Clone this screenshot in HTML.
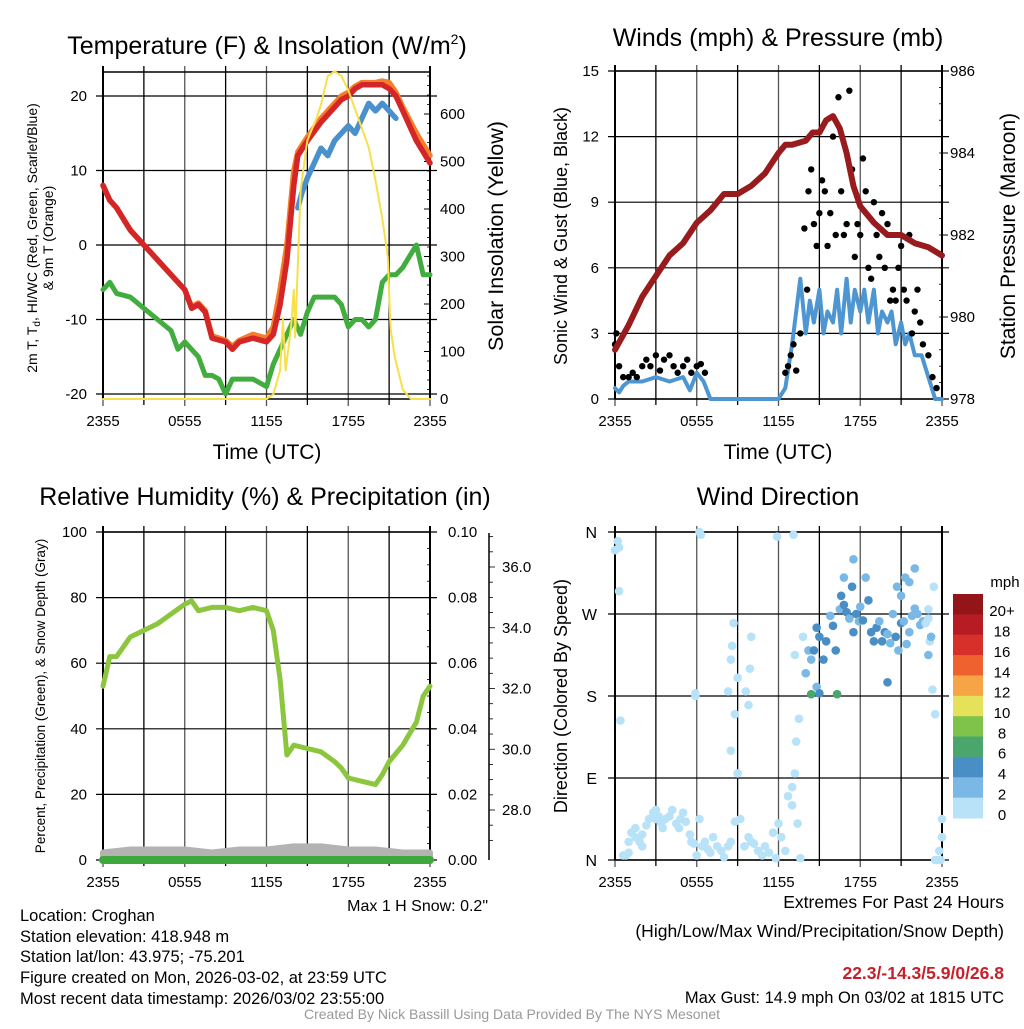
<!DOCTYPE html>
<html><head><meta charset="utf-8"><style>
body{margin:0;background:#fff;width:1024px;height:1024px;overflow:hidden;font-family:"Liberation Sans",sans-serif}
svg text{font-family:"Liberation Sans",sans-serif;fill:#000}
</style></head><body>
<svg id="c" width="1024" height="1024" viewBox="0 0 1024 1024" xmlns="http://www.w3.org/2000/svg"></svg>
<script>
const xTicks=["2355","0555","1155","1755","2355"];
const tempH=[0,0.5,1,1.5,2,3,4,5,6,6.5,7,7.5,8,9,9.5,10,11,12,12.5,13,13.5,14,14.3,15,16,17,17.5,18,18.5,19,20,20.5,21,21.5,22,23,24];
const temp2m=[8,6,5,3.5,2,0,-2,-4,-6,-8.5,-8,-9,-12.5,-13,-14,-13,-12.5,-13,-12,-8,-2,8,12,14,16.5,18.5,19.5,20,21,21.5,21.5,21.5,21,20,18,14,11];
const temp9m=[8,6,5,3.5,2,0,-2,-4,-6,-8.3,-7.8,-8.8,-12.2,-12.8,-13.6,-12.8,-12,-12.5,-11,-6,0,10,12.5,14.5,17,19,20,20.5,21.3,21.8,21.8,22,21.8,20.5,18.5,15,12];
const blueH=[14.3,14.6,15,15.5,16,16.5,17,17.5,18,18.5,19,19.5,20,20.5,21,21.5];
const blueT=[5,7,9,11,13,12,14,15,16,15,17,19,18,19,18,17];
const dewH=[0,0.5,1,2,3,4,5,5.5,6,7,7.5,8,8.5,9,9.5,10,11,12,12.5,13,13.5,14,14.5,15,15.5,16,17,17.5,18,18.5,19,19.5,20,20.5,21,21.5,22,23,23.5,24];
const dewT=[-6,-5,-6.5,-7,-8.5,-10,-11.5,-14,-13,-15,-17.5,-17.5,-18,-20,-18,-18,-18,-19,-16,-14,-12,-10,-12,-9,-7,-7,-7,-8,-11,-10,-10,-11,-10,-5,-4,-4,-3,0,-4,-4];
const solH=[0,11,12,12.5,13,13.2,13.4,13.8,14,14.1,14.3,14.5,15,15.7,16,16.5,17,17.5,18,18.5,19,19.5,20,20.5,20.9,21.1,21.4,22,22.6,24];
const solV=[0,0,0,10,60,170,60,150,230,130,280,440,545,593,620,680,690,680,650,610,570,530,460,380,300,150,90,20,0,0];
const presH=[0,1,2,3,4,5,6,7,8,9,10,11,12,12.5,13,14,14.5,15,15.5,16,16.5,17,17.5,18,19,20,21,22,23,24];
const presV=[979.2,979.8,980.5,981,981.5,981.8,982.3,982.6,983,983,983.2,983.5,984,984.2,984.2,984.3,984.5,984.5,984.8,984.9,984.6,984,983.2,982.7,982.3,982,982,981.8,981.7,981.5];
const windH=[0,0.3,0.6,1,2,3,4,5,5.5,6,6.5,7,12,12.5,13,13.3,13.6,14,14.3,14.6,15,15.3,15.6,16,16.3,16.6,17,17.3,17.6,18,18.3,18.6,19,19.3,19.6,20,20.3,20.6,21,21.3,21.6,22,22.5,23,23.5,24];
const windV=[0.5,0.3,0.6,0.8,0.8,1,0.8,1,0.4,1.2,0.8,0,0,0.5,2.5,4,5.5,3,4.5,3.5,5,3,4,3.5,5,3,5.5,3.5,5,4,5,3.5,5,3,4,3.5,4,2.5,3.5,2.5,3,2,2,1,0,0];
const gustH=[0,0.1,0.3,0.6,1,1.3,1.6,2,2.3,2.6,3,3.3,3.6,4,4.3,4.6,5,5.3,5.6,6,6.3,6.6,12.5,12.7,12.9,13.1,13.3,13.6,13.9,14.1,14.2,14.4,14.6,14.8,15,15.2,15.4,15.6,15.8,16,16.2,16.4,16.6,16.8,17,17.2,17.4,17.6,17.8,18,18.2,18.4,18.6,18.8,19,19.2,19.4,19.6,19.8,20,20.2,20.4,20.6,20.8,21,21.2,21.4,21.6,21.8,22,22.2,22.4,22.6,23,23.3,23.6];
const gustV=[2.5,3,1.5,1,1,1.2,1,1.5,1.8,1.5,2,1.3,1.8,2,1.5,1.2,1.5,1.8,1.2,1.5,1.6,1.2,1.2,1.5,2,2.5,1.3,3,7.8,5,9.5,10.5,8,7,8.5,10,9.5,7,8.5,12,7.5,13.8,9.5,7.5,8,14.1,10.5,6.5,8,7.5,11,9.5,6,5.5,9,7.5,6.5,8.5,6,8,4.5,5,4.5,6,7,5,4.5,7.5,3,4,5,3.5,2.5,2,1,0.5];
const rhH=[0,0.5,1,2,3,4,5,6,6.5,7,8,9,10,11,12,12.5,13,13.5,14,15,16,17,17.5,18,19,20,20.5,21,22,23,23.5,24];
const rhV=[53,62,62,68,70,72,75,78,79,76,77,77,76,77,76,70,55,32,35,34,33,30,28,25,24,23,26,30,35,42,50,53];
const snowH=[0,2,4,6,8,10,12,14,16,18,20,22,24];
const snowV=[26.6,26.7,26.7,26.7,26.6,26.7,26.7,26.8,26.8,26.7,26.7,26.6,26.6];
const dirH=[0,0.2,0.3,0.3,0.4,
0.6,0.8,1,1,1.2,1.5,1.5,1.8,2,2,
2.3,2.5,2.8,3,3,3.2,3.4,3.5,3.7,4,
4.2,4.5,4.7,4.8,5,5.2,5.5,5.6,5.8,6,
6.2,6.4,6.6,6.8,7,7.2,7.5,7.8,8,8.3,
8.5,8.8,9,9.2,9.5,9.8,10,10.2,10.5,10.8,
11,11.3,11.6,11.8,12,12.2,12.5,12.7,13,13,
13.2,13.4,13.6,13.3,13.5,13.2,
6.2,6.3,5.9,5.9,8.3,8.5,8.6,8.7,8.8,8.5,
9.6,9.8,9.9,10,9,11.9,13.1,13.8,
14,14.2,14.4,14.6,14.8,14.8,15,15,15.3,15.5,
15.8,16,16.2,16.5,16.6,16.8,17,17.2,17.4,17.5,
17.7,17.9,18,18.2,18.4,18.6,18.8,19,19.2,19.4,
19.6,19.8,20,20,20.2,20.4,20.6,20.8,21,21,
21.2,21.4,21.6,21.8,22,22.2,22.4,22.6,22.8,23,
23,23.1,23.2,23,23.3,23.4,23.5,16.8,17.5,21.3,
21.6,20.7,14.4,16.3,22,23.8,23.9,23.5,23.7,24,
24];
const dirV=[340,350,343,295,153,
5,5,8,20,30,35,25,20,28,15,
38,45,52,55,45,48,40,35,45,48,
55,40,35,45,52,42,28,20,18,5,
45,15,20,12,8,25,15,10,3,15,
20,42,95,45,15,25,20,18,10,5,
15,8,30,2,40,25,10,70,60,80,
95,40,2,130,155,225,
360,357,180,183,185,220,235,260,160,120,
185,170,210,245,200,355,357,245,
205,230,220,230,190,255,245,183,220,240,
268,257,230,275,290,280,272,265,300,250,
270,262,278,263,310,285,250,240,255,262,
240,250,248,195,238,270,245,230,260,290,
262,237,250,268,276,270,258,262,260,275,
265,240,245,225,187,300,160,310,330,310,
305,300,182,182,320,10,0,0,0,45,
25];
const dirS=[0,0,0,0,0,
0,0,0,0,0,0,0,0,0,0,
0,0,0,0,0,0,0,0,0,0,
0,0,0,0,0,0,0,0,0,0,
0,0,0,0,0,0,0,0,0,0,
0,0,0,0,0,0,0,0,0,0,
0,0,0,0,0,0,0,0,0,0,
0,0,0,0,0,0,
0,0,0,0,0,0,0,0,0,0,
0,0,0,0,0,0,0,0,
2,2,2,4,2,4,4,4,4,4,
2,4,4,2,4,4,4,2,4,4,
4,2,2,4,2,4,4,4,4,2,
4,4,2,4,2,2,4,2,4,2,
2,2,2,2,2,2,2,2,0,0,
0,0,2,2,0,0,0,2,2,2,
2,2,6,6,2,0,0,0,0,0,
0];
const cbLabels=["20+","18","16","14","12","10","8","6","4","2","0"];
const cbColors=["#931518","#b71c24","#d7302a","#ef6230","#f6a446","#e6e15a","#7fc34a","#4aa66d","#4a8ec6","#7ab9e6","#b8e2f8"];

const S=document.getElementById('c');const NS='http://www.w3.org/2000/svg';
function el(t,a,p){const e=document.createElementNS(NS,t);for(const k in a)e.setAttribute(k,a[k]);(p||S).appendChild(e);return e;}
function tx(x,y,s,size,anchor,rot,extra){const e=el('text',Object.assign({x:x,y:y,'font-size':size,'text-anchor':anchor||'middle'},extra||{}));if(rot)e.setAttribute('transform','rotate(-90 '+x+' '+y+')');e.textContent=s;return e;}
const X0=103,X1=430,X0b=615,X1b=942;
function fx(x0,x1){return h=>x0+h*(x1-x0)/24;}
function lin(v0,p0,v1,p1){return v=>p0+(v-v0)*(p1-p0)/(v1-v0);}
function frame(x0,y0,x1,y1,yGrid,name){
  const g=el('g',{});
  for(let i=0;i<=8;i++){const x=x0+i*(x1-x0)/8;el('line',{x1:x,x2:x,y1:y0-6,y2:y1+(i%2==0?7:6),stroke:i%2?'#000':'#555','stroke-width':1.3},g);}
  yGrid.forEach(y=>el('line',{x1:x0-7,x2:x1+7,y1:y,y2:y,stroke:'#000','stroke-width':1.2},g));
  el('line',{x1:x0,x2:x0,y1:y0-6,y2:y1,stroke:'#000','stroke-width':2},g);
  el('line',{x1:x1,x2:x1,y1:y0-6,y2:y1,stroke:'#000','stroke-width':2},g);
  el('line',{x1:x0,x2:x1,y1:y1,y2:y1,stroke:'#000','stroke-width':1.5},g);
  el('line',{x1:x0,x2:x1,y1:y0,y2:y0,stroke:'#000','stroke-width':1.5},g);
  xTicks.forEach((t,i)=>{const e=tx(x0+i*(x1-x0)/4,y1+27,t,15);});
}
function path(hs,vs,X,Y,attrs,name){let d='';hs.forEach((h,i)=>{d+=(i?'L':'M')+X(h).toFixed(1)+','+Y(vs[i]).toFixed(1);});const p=el('path',Object.assign({d:d,fill:'none','stroke-linejoin':'round','stroke-linecap':'round'},attrs));return p;}

// ---- Panel 1 ----
{const X=fx(X0,X1),Y=lin(0,245,20,96),YS=lin(0,399,600,114);
frame(X0,72,X1,399,[-20,-10,0,10,20].map(Y),'temp');
[-20,-10,0,10,20].forEach(v=>tx(87,Y(v)+5,String(v),15,'end'));
[0,100,200,300,400,500,600].forEach(v=>{el('line',{x1:X1,x2:X1-6,y1:YS(v),y2:YS(v),stroke:'#000'});tx(440,YS(v)+5,String(v),15,'start');});
for(let v=20;v<700;v+=20)el('line',{x1:X1,x2:X1-3,y1:YS(v),y2:YS(v),stroke:'#000','stroke-width':0.8});
path(dewH,dewT,X,Y,{stroke:'#41ad3f','stroke-width':5},'dewpoint-line');
path(tempH,temp9m,X,Y,{stroke:'#f57e2a','stroke-width':5.5},'temp-9m-line');
path(tempH,temp2m,X,Y,{stroke:'#d42626','stroke-width':5.5},'temp-2m-line');
path(blueH,blueT,X,Y,{stroke:'#4a90cc','stroke-width':5.5},'windchill-line');
path(solH,solV,X,YS,{stroke:'#f7e04a','stroke-width':2},'solar-line');
let t=tx(267,54,'Temperature (F) & Insolation (W/m',25);const ts=el('tspan',{dy:-10,'font-size':14},t);ts.textContent='2';const ts2=el('tspan',{dy:10},t);ts2.textContent=')';

tx(267,459,'Time (UTC)',21);
tx(37,238,'',14,'middle',1).innerHTML='2m T, T<tspan font-size="10" dy="3">d</tspan><tspan dy="-3">, HI/WC (Red, Green, Scarlet/Blue)</tspan>';
tx(53,238,'& 9m T (Orange)',14,'middle',1);
tx(503,236,'Solar Insolation (Yellow)',21.5,'middle',1);}

// ---- Panel 2 ----
{const X=fx(X0b,X1b),Y=lin(0,399,15,71),YP=lin(978,399,986,71);
frame(X0b,71,X1b,399,[0,3,6,9,12,15].map(Y),'wind');
[0,3,6,9,12,15].forEach(v=>tx(599,Y(v)+5,String(v),15,'end'));
[978,980,982,984,986].forEach(v=>{el('line',{x1:X1b,x2:X1b+6,y1:YP(v),y2:YP(v),stroke:'#000'});tx(950,YP(v)+5,String(v),15,'start');});
for(let v=978.4;v<986;v+=0.4)el('line',{x1:X1b,x2:X1b-3,y1:YP(v),y2:YP(v),stroke:'#000','stroke-width':0.8});
path(windH,windV,X,Y,{stroke:'#4d96d2','stroke-width':4},'wind-speed-line');
const g=el('g',{});
gustH.forEach((h,i)=>{const c=el('circle',{cx:X(h),cy:Y(gustV[i]),r:3.2,fill:'#000'},g);});
path(presH,presV,X,YP,{stroke:'#981b1e','stroke-width':6},'pressure-line');
tx(778,46,'Winds (mph) & Pressure (mb)',25);
tx(778,459,'Time (UTC)',21);
tx(567,236,'Sonic Wind & Gust (Blue, Black)',18,'middle',1);
tx(1015,236,'Station Pressure (Maroon)',21,'middle',1);}

// ---- Panel 3 ----
{const X=fx(X0,X1),Y=lin(0,860,100,532),YD=lin(28,810,36,567);
frame(X0,532,X1,860,[0,20,40,60,80,100].map(Y),'rh');
[0,20,40,60,80,100].forEach(v=>tx(87,Y(v)+5,String(v),15,'end'));
['0.00','0.02','0.04','0.06','0.08','0.10'].forEach((s,i)=>{const y=Y(i*20);el('line',{x1:X1,x2:X1+6,y1:y,y2:y,stroke:'#000'});tx(448,y+5,s,15,'start');});
for(let v=5;v<100;v+=5)el('line',{x1:X1,x2:X1-3,y1:Y(v),y2:Y(v),stroke:'#000','stroke-width':0.8});
el('line',{x1:489,x2:489,y1:533,y2:860,stroke:'#000','stroke-width':1.5});
for(let v=27;v<=37;v+=0.5)el('line',{x1:489,x2:v%2==0?495:493,y1:YD(v),y2:YD(v),stroke:'#000','stroke-width':0.8});
['28.0','30.0','32.0','34.0','36.0'].forEach((s,i)=>tx(502,YD(28+2*i)+5,s,15,'start'));
let d='M'+X(0)+',860';snowH.forEach((h,i)=>d+='L'+X(h).toFixed(1)+','+YD(snowV[i]).toFixed(1));d+='L'+X(24)+',860Z';
const sp=el('path',{d:d,fill:'#b3b3b3',stroke:'#b3b3b3','stroke-width':6,'stroke-linejoin':'round'});
const pl=el('line',{x1:X(0),x2:X(24),y1:860,y2:860,stroke:'#3fa83c','stroke-width':8,'stroke-linecap':'round'});
path(rhH,rhV,X,Y,{stroke:'#8cc63f','stroke-width':5},'rh-line');
tx(265,505,'Relative Humidity (%) & Precipitation (in)',25);
tx(45,696,'Percent, Precipitation (Green), & Snow Depth (Gray)',13.5,'middle',1);
tx(488,911,'Max 1 H Snow: 0.2"',16,'end');}

// ---- Panel 4 ----
{const X=fx(X0b,X1b),Y=lin(0,860,360,532);
frame(X0b,532,X1b,860,[0,90,180,270,360].map(Y),'dir');
['N','E','S','W','N'].forEach((s,i)=>tx(597,Y(i*90)+6,s,16,'end'));
const g=el('g',{});
dirH.forEach((h,i)=>{const c=el('circle',{cx:X(h),cy:Y(dirV[i]),r:4.3,fill:cbColors[10-dirS[i]/2]},g);});
tx(778,505,'Wind Direction',25);
tx(567,696,'Direction (Colored By Speed)',18,'middle',1);
const h=(818-594)/11;
cbColors.forEach((c,i)=>{const r=el('rect',{x:953,y:594+i*h,width:30,height:h+0.5,fill:c});tx(1002,594+i*h+h/2+12,cbLabels[i],15);});
tx(1005,587,'mph',15);}

// ---- footer ----
[['Location: Croghan',921],['Station elevation: 418.948 m',942],['Station lat/lon: 43.975; -75.201',962],['Figure created on Mon, 2026-03-02, at 23:59 UTC',983],['Most recent data timestamp: 2026/03/02 23:55:00',1004]].forEach(a=>tx(20,a[1],a[0],16.5,'start'));
tx(1004,908,'Extremes For Past 24 Hours',17.5,'end');
tx(1004,937,'(High/Low/Max Wind/Precipitation/Snow Depth)',17.5,'end');
tx(1004,979,'22.3/-14.3/5.9/0/26.8',17.5,'end',0,{'font-weight':'bold'}).style.fill='#c8202a';
tx(1004,1003,'Max Gust: 14.9 mph On 03/02 at 1815 UTC',16.5,'end');
tx(512,1019,'Created By Nick Bassill Using Data Provided By The NYS Mesonet',14).style.fill='#999';
</script>
</body></html>
